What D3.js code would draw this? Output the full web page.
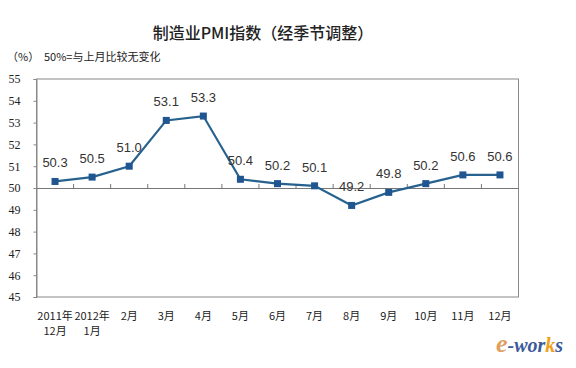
<!DOCTYPE html>
<html><head><meta charset="utf-8">
<script src="https://cdn.jsdelivr.net/npm/d3@7"></script>
<style>body{margin:0;background:#fff}svg{display:block}</style>
</head><body>
<svg id="c" width="576" height="368"></svg>
<script>
const categories = [["2011年","12月"],["2012年","1月"],["2月"],["3月"],["4月"],["5月"],["6月"],["7月"],["8月"],["9月"],["10月"],["11月"],["12月"]];
const values = [50.3,50.5,51.0,53.1,53.3,50.4,50.2,50.1,49.2,49.8,50.2,50.6,50.6];
const yTicks = [45,46,47,48,49,50,51,52,53,54,55];

const svg = d3.select("#c");
const L = 36.5, R = 518.5, T = 79, B = 297;
const x = d3.scaleBand().domain(d3.range(categories.length)).range([L, R]);
const y = d3.scaleLinear().domain([45,55]).range([B, T]);
const cx = i => x(i) + x.bandwidth()/2;

// title
svg.append("text").attr("x",263).attr("y",39).attr("text-anchor","middle")
  .attr("font-family","Noto Sans CJK SC").attr("font-size",16).attr("font-weight",500)
  .attr("fill","#222").text("制造业PMI指数（经季节调整）");
svg.append("text").attr("x",7).attr("y",61).attr("font-family","Noto Sans CJK SC")
  .attr("font-size",11).attr("fill","#222").text("（%）");
svg.append("text").attr("x",44).attr("y",61).attr("font-family","Noto Sans CJK SC")
  .attr("font-size",11).attr("fill","#222").text("50%=与上月比较无变化");

// plot border
svg.append("rect").attr("x",L).attr("y",T).attr("width",R-L).attr("height",B-T)
  .attr("fill","none").attr("stroke","#888").attr("stroke-width",1);

// y axis
const ya = svg.append("g").attr("transform",`translate(${L},0)`)
  .call(d3.axisLeft(y).tickValues(yTicks).tickSize(3).tickPadding(8));
ya.select(".domain").attr("stroke","#888");
ya.selectAll("line").attr("stroke","#888");
ya.selectAll("text").attr("font-family","Liberation Serif").attr("font-size",12)
  .attr("fill","#222").attr("text-anchor","start").attr("x",-28);

// x axis at 50
const xa = svg.append("g").attr("transform",`translate(0,${y(50)})`)
  .call(d3.axisTop(x).tickSize(0).tickFormat(""));
xa.select(".domain").attr("stroke","#777");
xa.selectAll(".b").data(d3.range(1,categories.length)).enter().append("line")
  .attr("x1",i=>x(i)).attr("x2",i=>x(i)).attr("y1",0).attr("y2",-4).attr("stroke","#777");

// x labels
const xl = svg.append("g");
categories.forEach((c,i)=>{
  c.forEach((t,j)=>{
    xl.append("text").attr("x",cx(i)).attr("y",320+j*15).attr("text-anchor","middle")
      .attr("font-family","Noto Sans CJK SC").attr("font-size",11).attr("fill","#222").text(t);
  });
});

// line
const line = d3.line().x((d,i)=>cx(i)).y(d=>y(d));
svg.append("path").datum(values).attr("d",line).attr("fill","none")
  .attr("stroke","#27628f").attr("stroke-width",2.2);
svg.selectAll(".m").data(values).enter().append("rect")
  .attr("x",(d,i)=>cx(i)-3.5).attr("y",d=>y(d)-3.5).attr("width",7).attr("height",7)
  .attr("fill","#1f5591");
svg.selectAll(".lab").data(values).enter().append("text")
  .attr("x",(d,i)=>cx(i)).attr("y",d=>y(d)-14).attr("text-anchor","middle")
  .attr("font-family","Liberation Sans").attr("font-size",13).attr("fill","#333")
  .text(d=>d.toFixed(1));

// watermark
const wm = svg.append("text").attr("x",496).attr("y",352).attr("font-family","Liberation Serif")
  .attr("font-style","italic").attr("font-weight","bold").attr("font-size",20);
wm.append("tspan").attr("fill","#e0a060").attr("font-size",26).text("e");
wm.append("tspan").attr("fill","#3a5a9a").text("-wor");
wm.append("tspan").attr("fill","#f0a020").text("k");
wm.append("tspan").attr("fill","#3a5a9a").text("s");
</script>
</body></html>
